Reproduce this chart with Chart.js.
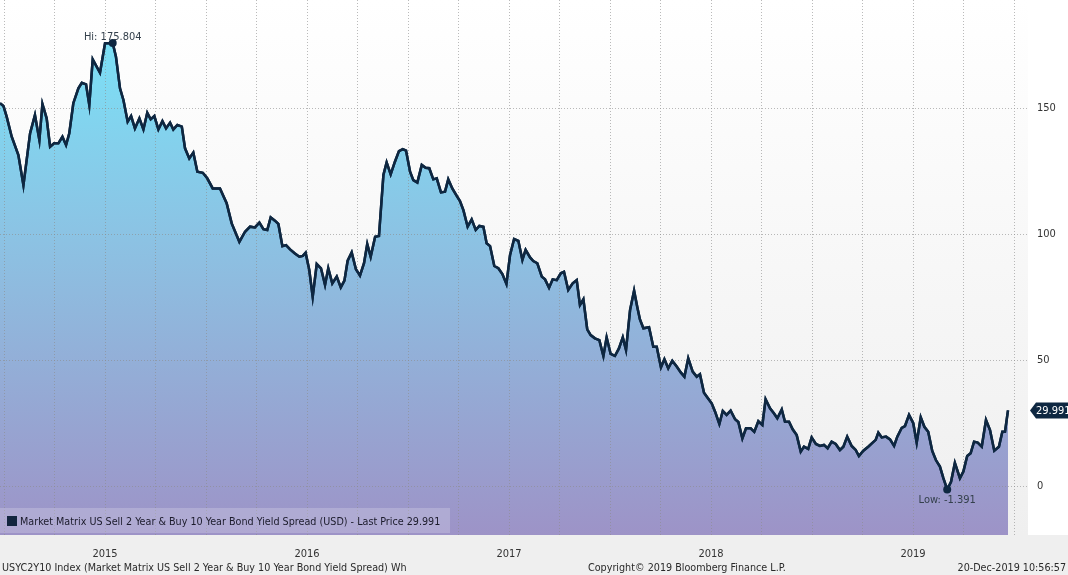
<!DOCTYPE html>
<html>
<head>
<meta charset="utf-8">
<script src="https://cdn.jsdelivr.net/npm/chart.js@4.4.0/dist/chart.umd.min.js"></script>
<style>
  html, body { margin: 0; padding: 0; background: #fff; }
  #wrap { position: relative; width: 1068px; height: 575px; overflow: hidden; }
  #chart { position: absolute; left: 0; top: 0; }
  .txt {
    position: absolute; white-space: nowrap; line-height: 14px; font-size: 10.7px; color: #2a2a2a;
    font-family: 'DejaVu Sans Condensed', 'Liberation Sans Narrow', 'Liberation Sans', sans-serif;
  }
  #legend { position: absolute; left: 0; top: 508px; width: 450px; height: 25px; background: rgba(255,255,255,0.2); }
  #legend .sq { position: absolute; left: 7px; top: 8px; width: 10px; height: 10px; background: #13263f; }
  #legend .txt { left: 20px; top: 7px; color: #1b1b2b; }
</style>
</head>
<body>
<div id="wrap">
  <canvas id="chart" width="1068" height="575"></canvas>
  <div id="legend"><div class="sq"></div><div class="txt">Market Matrix US Sell 2 Year &amp; Buy 10 Year Bond Yield Spread (USD) - Last Price 29.991</div></div>
  <div class="txt" style="left:2px; top:561px;">USYC2Y10 Index (Market Matrix US Sell 2 Year &amp; Buy 10 Year Bond Yield Spread) Wh</div>
  <div class="txt" style="left:588px; top:561px;">Copyright© 2019 Bloomberg Finance L.P.</div>
  <div class="txt" style="right:2px; top:561px;">20-Dec-2019 10:56:57</div>
</div>
<script>
// weekly observations, date as decimal year
const dates = [
  2014.980, 2014.997, 2015.013, 2015.038, 2015.071, 2015.096, 2015.129, 2015.153, 2015.175, 2015.190,
  2015.211, 2015.228, 2015.248, 2015.269, 2015.289, 2015.307, 2015.323, 2015.343, 2015.368, 2015.385,
  2015.406, 2015.422, 2015.439, 2015.475, 2015.500, 2015.521, 2015.538, 2015.554, 2015.574, 2015.591,
  2015.612, 2015.629, 2015.648, 2015.670, 2015.690, 2015.709, 2015.726, 2015.744, 2015.764, 2015.784,
  2015.802, 2015.822, 2015.838, 2015.858, 2015.880, 2015.896, 2015.917, 2015.937, 2015.957, 2015.984,
  2016.006, 2016.033, 2016.069, 2016.102, 2016.127, 2016.165, 2016.193, 2016.218, 2016.242, 2016.264,
  2016.284, 2016.303, 2016.320, 2016.341, 2016.358, 2016.378, 2016.396, 2016.416, 2016.440, 2016.462,
  2016.479, 2016.493, 2016.511, 2016.528, 2016.548, 2016.569, 2016.589, 2016.605, 2016.625, 2016.647,
  2016.667, 2016.685, 2016.701, 2016.721, 2016.742, 2016.762, 2016.782, 2016.798, 2016.815, 2016.837,
  2016.856, 2016.878, 2016.894, 2016.914, 2016.935, 2016.955, 2016.974, 2016.990, 2017.010, 2017.026,
  2017.046, 2017.068, 2017.087, 2017.105, 2017.125, 2017.142, 2017.163, 2017.183, 2017.199, 2017.219,
  2017.241, 2017.257, 2017.274, 2017.295, 2017.315, 2017.335, 2017.353, 2017.373, 2017.389, 2017.406,
  2017.427, 2017.447, 2017.467, 2017.487, 2017.505, 2017.525, 2017.546, 2017.566, 2017.582, 2017.604,
  2017.620, 2017.640, 2017.662, 2017.678, 2017.698, 2017.716, 2017.736, 2017.756, 2017.772, 2017.793,
  2017.815, 2017.835, 2017.851, 2017.868, 2017.887, 2017.904, 2017.925, 2017.947, 2017.967, 2017.983,
  2018.003, 2018.024, 2018.044, 2018.063, 2018.079, 2018.099, 2018.119, 2018.135, 2018.148, 2018.165,
  2018.193, 2018.214, 2018.231, 2018.252, 2018.269, 2018.288, 2018.308, 2018.330, 2018.351, 2018.368,
  2018.387, 2018.409, 2018.429, 2018.445, 2018.465, 2018.481, 2018.503, 2018.520, 2018.541, 2018.558,
  2018.577, 2018.597, 2018.619, 2018.635, 2018.655, 2018.673, 2018.696, 2018.714, 2018.734, 2018.754,
  2018.770, 2018.792, 2018.812, 2018.828, 2018.850, 2018.866, 2018.886, 2018.904, 2018.924, 2018.944,
  2018.960, 2018.981, 2018.998, 2019.019, 2019.039, 2019.059, 2019.077, 2019.097, 2019.117, 2019.138,
  2019.155, 2019.174, 2019.196, 2019.216, 2019.232, 2019.254, 2019.278, 2019.300, 2019.315, 2019.328,
  2019.345, 2019.366, 2019.386, 2019.406, 2019.422, 2019.444, 2019.460, 2019.480, 2019.501, 2019.518,
  2019.538, 2019.556, 2019.575, 2019.595, 2019.613, 2019.633, 2019.650, 2019.669, 2019.688, 2019.707,
  2019.732, 2019.749, 2019.768, 2019.785, 2019.802, 2019.820, 2019.840, 2019.861, 2019.881, 2019.902,
  2019.925, 2019.942, 2019.955, 2019.970
];
// 2s10s spread, bp
const spread = [
  151.9, 150.8, 146.6, 138.6, 131.3, 119.4, 140.0, 147.2, 137.3, 151.6,
  145.9, 134.6, 136.0, 136.0, 138.6, 135.3, 140.0, 151.9, 157.8, 160.0,
  159.4, 151.2, 169.3, 164.0, 175.7, 175.7, 175.804, 170.4, 157.8, 153.2,
  144.6, 146.8, 141.9, 145.9, 141.5, 148.1, 145.5, 146.8, 141.5, 144.8,
  141.9, 144.2, 141.5, 143.3, 142.6, 134.0, 130.0, 132.3, 124.7, 124.3,
  122.1, 118.1, 118.1, 112.2, 104.2, 96.9, 100.9, 102.9, 102.6, 104.5,
  101.9, 101.6, 106.6, 105.3, 104.0, 95.2, 95.6, 93.9, 92.3, 91.0,
  91.3, 92.6, 85.7, 75.1, 88.1, 86.4, 79.8, 86.4, 80.4, 83.1,
  78.8, 81.5, 89.4, 92.7, 86.0, 83.5, 88.4, 96.0, 91.0, 98.9,
  99.2, 123.4, 128.4, 123.7, 128.7, 132.9, 133.7, 133.1, 124.7, 121.4,
  120.4, 127.4, 126.3, 126.1, 121.7, 122.1, 116.5, 116.8, 121.7, 118.1,
  115.1, 113.1, 109.5, 102.9, 105.8, 101.6, 103.2, 102.9, 96.3, 95.2,
  87.3, 86.4, 84.1, 80.2, 91.7, 98.0, 97.3, 89.7, 93.7, 90.7,
  89.3, 88.4, 83.1, 82.0, 78.7, 82.0, 81.7, 84.4, 85.0, 77.8,
  80.4, 81.7, 71.8, 74.1, 62.2, 59.9, 58.6, 57.9, 51.6, 59.0,
  52.4, 51.6, 54.6, 59.0, 54.0, 69.8, 77.5, 70.9, 66.1, 62.6,
  63.0, 55.3, 55.3, 47.1, 50.3, 46.7, 49.7, 47.4, 45.0, 43.4,
  50.7, 45.4, 43.4, 44.4, 37.0, 35.2, 32.8, 29.5, 24.6, 29.8,
  28.2, 29.9, 26.5, 25.4, 18.9, 22.9, 22.9, 21.5, 25.7, 24.2,
  34.4, 30.8, 28.8, 26.9, 30.4, 25.5, 25.5, 22.5, 20.2, 13.6,
  15.6, 14.7, 19.3, 16.7, 15.9, 16.3, 15.0, 17.6, 16.7, 14.3,
  15.6, 19.6, 15.9, 14.3, 11.9, 14.0, 15.6, 17.2, 18.3, 21.2,
  19.3, 19.6, 18.5, 15.9, 19.6, 23.1, 23.8, 28.2, 24.9, 17.2,
  27.3, 23.5, 21.5, 13.9, 10.3, 7.7, 3.1, -1.391, 1.7, 9.2,
  3.1, 5.7, 11.9, 13.0, 17.6, 17.2, 15.6, 26.2, 22.2, 14.0,
  15.6, 21.5, 21.5, 29.991
];
const years = [2015, 2016, 2017, 2018, 2019];
const yTicks = [0, 50, 100, 150];

const FONT = "'DejaVu Sans Condensed', 'Liberation Sans Narrow', 'Liberation Sans', sans-serif";
Chart.defaults.font.family = FONT;
Chart.defaults.font.size = 11;
Chart.defaults.color = '#333';

// quarter grid lines, year label in the middle of each year
const quarterTicks = [];
years.forEach(y => { quarterTicks.push(y, y + 0.25, y + 0.5, y + 0.75); });
quarterTicks.push(years[years.length - 1] + 1);

// keep the plot area flush with the canvas edges
function noPad(s) {
  s.paddingTop = 0; s.paddingBottom = 0; s.paddingLeft = 0; s.paddingRight = 0;
}

const bgPlugin = {
  id: 'bg',
  beforeDraw(chart) {
    const { ctx, chartArea: a, width, height } = chart;
    ctx.save();
    ctx.fillStyle = '#efefef';
    ctx.fillRect(0, a.bottom, width, height - a.bottom);
    ctx.fillStyle = '#ffffff';
    ctx.fillRect(a.right, 0, width - a.right, a.bottom);
    const g = ctx.createLinearGradient(0, a.top, 0, a.bottom);
    g.addColorStop(0, '#ffffff');
    g.addColorStop(1, '#efefef');
    ctx.fillStyle = g;
    ctx.fillRect(a.left, a.top, a.width, a.height);
    ctx.restore();
  }
};

const marksPlugin = {
  id: 'marks',
  afterDraw(chart) {
    const { ctx, chartArea: a, width } = chart;
    const meta = chart.getDatasetMeta(0);
    // line back on top of the dotted grid
    ctx.save();
    ctx.beginPath();
    ctx.rect(a.left, a.top, a.width, a.height);
    ctx.clip();
    meta.dataset.draw(ctx, a);
    ctx.restore();

    const hiIdx = spread.indexOf(Math.max(...spread));
    const loIdx = spread.indexOf(Math.min(...spread));
    const hi = meta.data[hiIdx], lo = meta.data[loIdx];
    ctx.save();
    ctx.fillStyle = '#0e2741';
    [hi, lo].forEach(p => { ctx.beginPath(); ctx.arc(p.x, p.y, 4, 0, Math.PI * 2); ctx.fill(); });
    ctx.font = '11px ' + FONT;
    ctx.fillStyle = '#34404c';
    ctx.textAlign = 'center';
    ctx.textBaseline = 'alphabetic';
    ctx.fillText('Hi: ' + spread[hiIdx].toFixed(3), hi.x, hi.y - 3);
    ctx.fillText('Low: ' + spread[loIdx].toFixed(3), lo.x, lo.y + 13);

    // last price tag on the right axis
    const last = spread[spread.length - 1];
    const ly = chart.scales.y.getPixelForValue(last);
    const x0 = a.right + 2;
    ctx.fillStyle = '#0e2741';
    ctx.beginPath();
    ctx.moveTo(x0, ly);
    ctx.lineTo(x0 + 6, ly - 8);
    ctx.lineTo(width, ly - 8);
    ctx.lineTo(width, ly + 8);
    ctx.lineTo(x0 + 6, ly + 8);
    ctx.closePath();
    ctx.fill();
    ctx.fillStyle = '#ffffff';
    ctx.textAlign = 'left';
    ctx.textBaseline = 'middle';
    ctx.fillText(last.toFixed(3), x0 + 6, ly + 1);
    ctx.restore();
  }
};

const gridStyle = {
  color: 'rgba(140,140,140,0.6)',
  lineWidth: 1,
  drawTicks: false,
  z: 1
};

new Chart(document.getElementById('chart'), {
  type: 'line',
  data: {
    datasets: [{
      data: dates.map((d, i) => ({ x: d, y: spread[i] })),
      borderColor: '#0e2741',
      borderWidth: 2.5,
      pointRadius: 0,
      tension: 0,
      fill: 'start',
      backgroundColor(context) {
        const a = context.chart.chartArea;
        if (!a) return '#8fb8dc';
        const g = context.chart.ctx.createLinearGradient(0, a.top, 0, a.bottom);
        g.addColorStop(0, '#78e6fa');
        g.addColorStop(0.45, '#8cc2e3');
        g.addColorStop(1, '#9d93c7');
        return g;
      }
    }]
  },
  options: {
    responsive: false,
    animation: false,
    devicePixelRatio: 1,
    layout: { padding: 0 },
    plugins: { legend: { display: false }, tooltip: { enabled: false } },
    scales: {
      x: {
        type: 'linear',
        position: 'bottom',
        min: 2014.98,
        max: 2020.069,
        afterFit(s) { s.height = 40; noPad(s); },
        afterBuildTicks(s) { s.ticks = quarterTicks.map(v => ({ value: v })); },
        ticks: {
          autoSkip: false,
          maxRotation: 0,
          padding: 13,
          color: '#333',
          callback(v) {
            const y = Math.floor(v);
            return Math.abs(v - y - 0.5) < 1e-6 && years.includes(y) ? String(y) : '';
          }
        },
        grid: Object.assign({}, gridStyle),
        border: { display: false, dash: [1, 2] }
      },
      y: {
        position: 'right',
        min: -19.44,
        max: 192.86,
        afterFit(s) { s.width = 40; noPad(s); },
        afterBuildTicks(s) { s.ticks = yTicks.map(v => ({ value: v })); },
        ticks: { padding: 9, color: '#333' },
        grid: Object.assign({}, gridStyle),
        border: { display: false, dash: [1, 2] }
      }
    }
  },
  plugins: [bgPlugin, marksPlugin]
});
</script>
</body>
</html>
